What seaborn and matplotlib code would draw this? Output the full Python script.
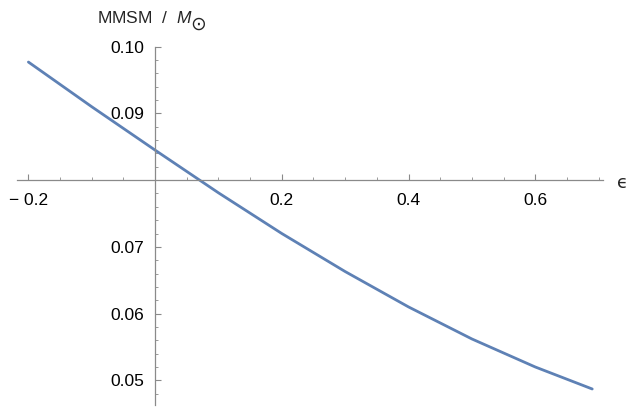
import numpy as np
import matplotlib
matplotlib.use("Agg")
import matplotlib.pyplot as plt
import seaborn as sns
from matplotlib.ticker import FixedLocator

# values
eps = [-0.2, -0.1, 0.0, 0.1, 0.2, 0.3, 0.4, 0.5, 0.6, 0.69]
mmsm = [0.0977, 0.0910, 0.0845, 0.0781, 0.0720, 0.0663, 0.0610, 0.0562, 0.0520, 0.0487]

x_ticks = [-0.2, 0.2, 0.4, 0.6]
x_labels = ["\u2212 0.2", "0.2", "0.4", "0.6"]
y_ticks = [0.05, 0.06, 0.07, 0.09, 0.10]
y_labels = ["0.05", "0.06", "0.07", "0.09", "0.10"]

sns.set_style("white")
plt.rcParams["font.family"] = ["Liberation Sans", "DejaVu Sans"]
plt.rcParams["mathtext.fontset"] = "custom"
plt.rcParams["mathtext.it"] = "Liberation Sans:italic"
plt.rcParams["mathtext.rm"] = "Liberation Sans"

fig = plt.figure(figsize=(6.27, 4.09), dpi=100)
ax = fig.add_axes([17 / 627, 4 / 409, 586 / 627, 358.3 / 409])

sns.lineplot(x=eps, y=mmsm, ax=ax, color="#5E81B5", linewidth=2.0)

ax.set_xlim(-0.218, 0.707)
ax.set_ylim(0.0463, 0.1)

axis_col = "#8a8a8a"
for s in ["top", "right"]:
    ax.spines[s].set_visible(False)
ax.spines["left"].set_position(("data", 0))
ax.spines["bottom"].set_position(("data", 0.08))
ax.spines["left"].set_color(axis_col)
ax.spines["bottom"].set_color(axis_col)
ax.spines["left"].set_linewidth(0.9)
ax.spines["bottom"].set_linewidth(0.9)

ax.xaxis.set_major_locator(FixedLocator(x_ticks))
ax.set_xticklabels(x_labels)
ax.xaxis.set_minor_locator(FixedLocator([-0.15, -0.1, -0.05, 0.05, 0.1, 0.15, 0.25, 0.3, 0.35,
                                         0.45, 0.5, 0.55, 0.65, 0.7]))
ax.yaxis.set_major_locator(FixedLocator(y_ticks))
ax.set_yticklabels(y_labels)
ax.yaxis.set_minor_locator(FixedLocator([0.048, 0.052, 0.054, 0.056, 0.058, 0.062, 0.064, 0.066,
                                         0.068, 0.072, 0.074, 0.076, 0.078, 0.082, 0.084,
                                         0.086, 0.088, 0.092, 0.094, 0.096, 0.098]))

ax.tick_params(which="both", bottom=True, left=True, top=False, right=False)
ax.tick_params(which="major", direction="in", length=4.5, width=0.8, color=axis_col,
               labelsize=12.5, labelcolor="black")
ax.tick_params(which="minor", direction="in", length=2.5, width=0.6, color=axis_col)
ax.tick_params(axis="x", which="major", pad=9)
ax.tick_params(axis="y", which="major", pad=8)
ax.set_xlabel("")
ax.set_ylabel("")

fig.text(97 / 627, 1 - 18 / 409, r"MMSM  /  $M$", ha="left", va="center", fontsize=12.5)
fig.text(198 / 627, 1 - 24 / 409, "\u2299", ha="center", va="center", fontsize=13.5,
         family="DejaVu Sans")
fig.text(622 / 627, 1 - 183 / 409, "\u03f5", ha="center", va="center", fontsize=13,
         family="DejaVu Sans")

fig.savefig("out.png", dpi=100)
